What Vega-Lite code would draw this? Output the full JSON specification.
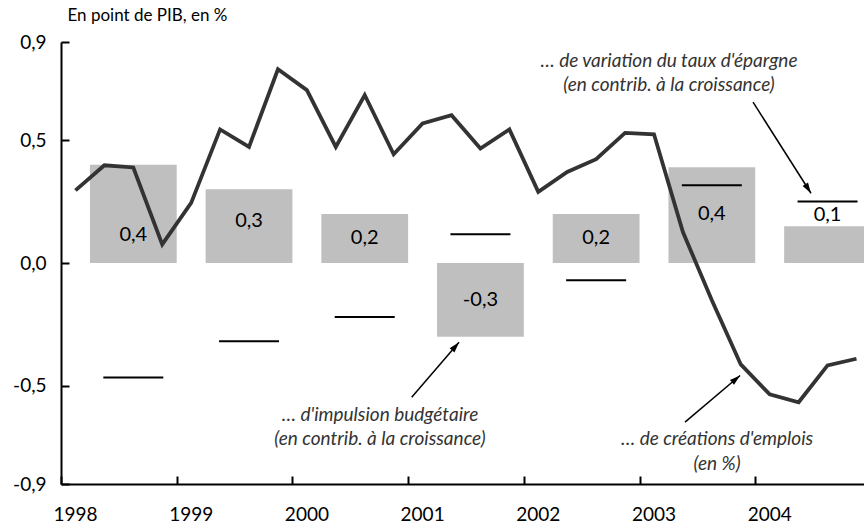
{
  "$schema": "https://vega.github.io/schema/vega-lite/v6.json",
  "width": 803,
  "height": 442,
  "autosize": {"type": "none"},
  "padding": {"left": 61, "top": 42, "right": 0, "bottom": 44},
  "background": "white",
  "config": {"view": {"stroke": null}, "font": "Lato"},
  "datasets": {
    "emploi": [
      {"t": 1998.125, "v": 0.296}, {"t": 1998.375, "v": 0.398}, {"t": 1998.625, "v": 0.389}, {"t": 1998.875, "v": 0.076},
      {"t": 1999.125, "v": 0.245}, {"t": 1999.375, "v": 0.544}, {"t": 1999.625, "v": 0.473}, {"t": 1999.875, "v": 0.789},
      {"t": 2000.125, "v": 0.704}, {"t": 2000.375, "v": 0.473}, {"t": 2000.625, "v": 0.684}, {"t": 2000.875, "v": 0.443},
      {"t": 2001.125, "v": 0.568}, {"t": 2001.375, "v": 0.602}, {"t": 2001.625, "v": 0.466}, {"t": 2001.875, "v": 0.544},
      {"t": 2002.125, "v": 0.290}, {"t": 2002.375, "v": 0.371}, {"t": 2002.625, "v": 0.423}, {"t": 2002.875, "v": 0.530},
      {"t": 2003.125, "v": 0.524}, {"t": 2003.375, "v": 0.126}, {"t": 2003.625, "v": -0.152}, {"t": 2003.875, "v": -0.413},
      {"t": 2004.125, "v": -0.535}, {"t": 2004.375, "v": -0.567}, {"t": 2004.625, "v": -0.417}, {"t": 2004.875, "v": -0.39}
    ],
    "annuel": [
      {"annee": 1998, "debut": 1998.25, "fin": 1999.0, "centre": 1998.625, "impulsion": 0.40, "label": "0,4", "labelY": 0.113, "epargne": -0.466},
      {"annee": 1999, "debut": 1999.25, "fin": 2000.0, "centre": 1999.625, "impulsion": 0.30, "label": "0,3", "labelY": 0.173, "epargne": -0.319},
      {"annee": 2000, "debut": 2000.25, "fin": 2001.0, "centre": 2000.625, "impulsion": 0.20, "label": "0,2", "labelY": 0.100, "epargne": -0.220},
      {"annee": 2001, "debut": 2001.25, "fin": 2002.0, "centre": 2001.625, "impulsion": -0.30, "label": "-0,3", "labelY": -0.150, "epargne": 0.117},
      {"annee": 2002, "debut": 2002.25, "fin": 2003.0, "centre": 2002.625, "impulsion": 0.20, "label": "0,2", "labelY": 0.100, "epargne": -0.070},
      {"annee": 2003, "debut": 2003.25, "fin": 2004.0, "centre": 2003.625, "impulsion": 0.39, "label": "0,4", "labelY": 0.200, "epargne": 0.317},
      {"annee": 2004, "debut": 2004.25, "fin": 2005.0, "centre": 2004.625, "impulsion": 0.15, "label": "0,1", "labelY": 0.195, "epargne": 0.250}
    ],
    "notes": [
      {"x": 2003.255, "y": 0.823, "texte": "… de variation du taux d'épargne"},
      {"x": 2003.255, "y": 0.725, "texte": "(en contrib. à la croissance)"},
      {"x": 2000.757, "y": -0.621, "texte": "… d'impulsion budgétaire"},
      {"x": 2000.757, "y": -0.715, "texte": "(en contrib. à la croissance)"},
      {"x": 2003.67, "y": -0.715, "texte": "… de créations d'emplois"},
      {"x": 2003.67, "y": -0.817, "texte": "(en %)"}
    ],
    "fleches": [
      {"id": "epargne", "x": 2003.981, "y": 0.655, "x2": 2004.482, "y2": 0.284},
      {"id": "impulsion", "x": 2001.031, "y": -0.547, "x2": 2001.44, "y2": -0.323},
      {"id": "emploi", "x": 2003.393, "y": -0.648, "x2": 2003.869, "y2": -0.458}
    ]
  },
  "layer": [
    {
      "data": {"name": "annuel"},
      "mark": {"type": "bar", "color": "#bfbfbf", "clip": true},
      "encoding": {
        "x": {
          "field": "debut", "type": "quantitative",
          "scale": {"domain": [1998, 2004.94], "nice": false, "zero": false},
          "axis": {
            "values": [1998, 1999, 2000, 2001, 2002, 2003, 2004],
            "format": "d", "title": null, "grid": false,
            "tickSize": -8, "tickWidth": 2, "tickColor": "black",
            "domainColor": "black", "domainWidth": 2,
            "labelFontSize": 19, "labelColor": "black",
            "labelOffset": 14, "labelFlush": false, "labelPadding": 29
          }
        },
        "x2": {"field": "fin"},
        "y": {
          "field": "impulsion", "type": "quantitative",
          "scale": {"domain": [-0.9, 0.9], "nice": false, "zero": false},
          "axis": {
            "values": [-0.9, -0.5, 0, 0.5, 0.9],
            "labelExpr": "replace(replace(format(datum.value, '.1f'), '.', ','), '\u2212', '-')",
            "grid": false,
            "tickSize": -8, "tickWidth": 2, "tickColor": "black",
            "domainColor": "black", "domainWidth": 2,
            "labelFontSize": 19, "labelColor": "black", "labelPadding": 23,
            "title": "En point de PIB, en %", "titleAngle": 0, "titleAlign": "left",
            "titleBaseline": "middle", "titleX": 6, "titleY": -27,
            "titleFontSize": 17, "titleFontWeight": "normal", "titleColor": "black"
          }
        },
        "y2": {"datum": 0}
      }
    },
    {
      "mark": {"type": "rule", "color": "black", "strokeWidth": 2},
      "encoding": {"y": {"datum": 0.9}}
    },
    {
      "mark": {"type": "rule", "color": "black", "strokeWidth": 2},
      "encoding": {"x": {"datum": 1998.12}, "x2": {"datum": 2004.88}, "y": {"datum": 0}}
    },
    {
      "data": {"name": "annuel"},
      "mark": {"type": "tick", "orient": "horizontal", "color": "black", "size": 60, "thickness": 2, "opacity": 1},
      "encoding": {
        "x": {"field": "centre", "type": "quantitative"},
        "y": {"field": "epargne", "type": "quantitative"}
      }
    },
    {
      "data": {"name": "emploi"},
      "mark": {"type": "line", "color": "#333333", "strokeWidth": 3.8},
      "encoding": {
        "x": {"field": "t", "type": "quantitative"},
        "y": {"field": "v", "type": "quantitative"}
      }
    },
    {
      "data": {"name": "annuel"},
      "mark": {"type": "text", "fontSize": 20, "color": "black", "align": "center", "baseline": "middle"},
      "encoding": {
        "x": {"field": "centre", "type": "quantitative"},
        "y": {"field": "labelY", "type": "quantitative"},
        "text": {"field": "label"}
      }
    },
    {
      "data": {"name": "notes"},
      "mark": {"type": "text", "fontSize": 19, "fontStyle": "italic", "color": "#333333", "align": "center", "baseline": "middle"},
      "encoding": {
        "x": {"field": "x", "type": "quantitative"},
        "y": {"field": "y", "type": "quantitative"},
        "text": {"field": "texte"}
      }
    },
    {
      "data": {"name": "fleches"},
      "mark": {"type": "rule", "color": "black", "strokeWidth": 1.5},
      "encoding": {
        "x": {"field": "x", "type": "quantitative"},
        "y": {"field": "y", "type": "quantitative"},
        "x2": {"field": "x2"},
        "y2": {"field": "y2"}
      }
    },
    {
      "data": {"name": "fleches"},
      "transform": [{"filter": "datum.id == 'epargne'"}],
      "mark": {"type": "point", "shape": "M0,0 L0.45,1.5 L-0.45,1.5 Z", "filled": true, "color": "black", "opacity": 1, "size": 200, "angle": 147.5},
      "encoding": {
        "x": {"field": "x2", "type": "quantitative"},
        "y": {"field": "y2", "type": "quantitative"}
      }
    },
    {
      "data": {"name": "fleches"},
      "transform": [{"filter": "datum.id == 'impulsion'"}],
      "mark": {"type": "point", "shape": "M0,0 L0.45,1.5 L-0.45,1.5 Z", "filled": true, "color": "black", "opacity": 1, "size": 200, "angle": 40.9},
      "encoding": {
        "x": {"field": "x2", "type": "quantitative"},
        "y": {"field": "y2", "type": "quantitative"}
      }
    },
    {
      "data": {"name": "fleches"},
      "transform": [{"filter": "datum.id == 'emploi'"}],
      "mark": {"type": "point", "shape": "M0,0 L0.45,1.5 L-0.45,1.5 Z", "filled": true, "color": "black", "opacity": 1, "size": 200, "angle": 49.7},
      "encoding": {
        "x": {"field": "x2", "type": "quantitative"},
        "y": {"field": "y2", "type": "quantitative"}
      }
    }
  ]
}
